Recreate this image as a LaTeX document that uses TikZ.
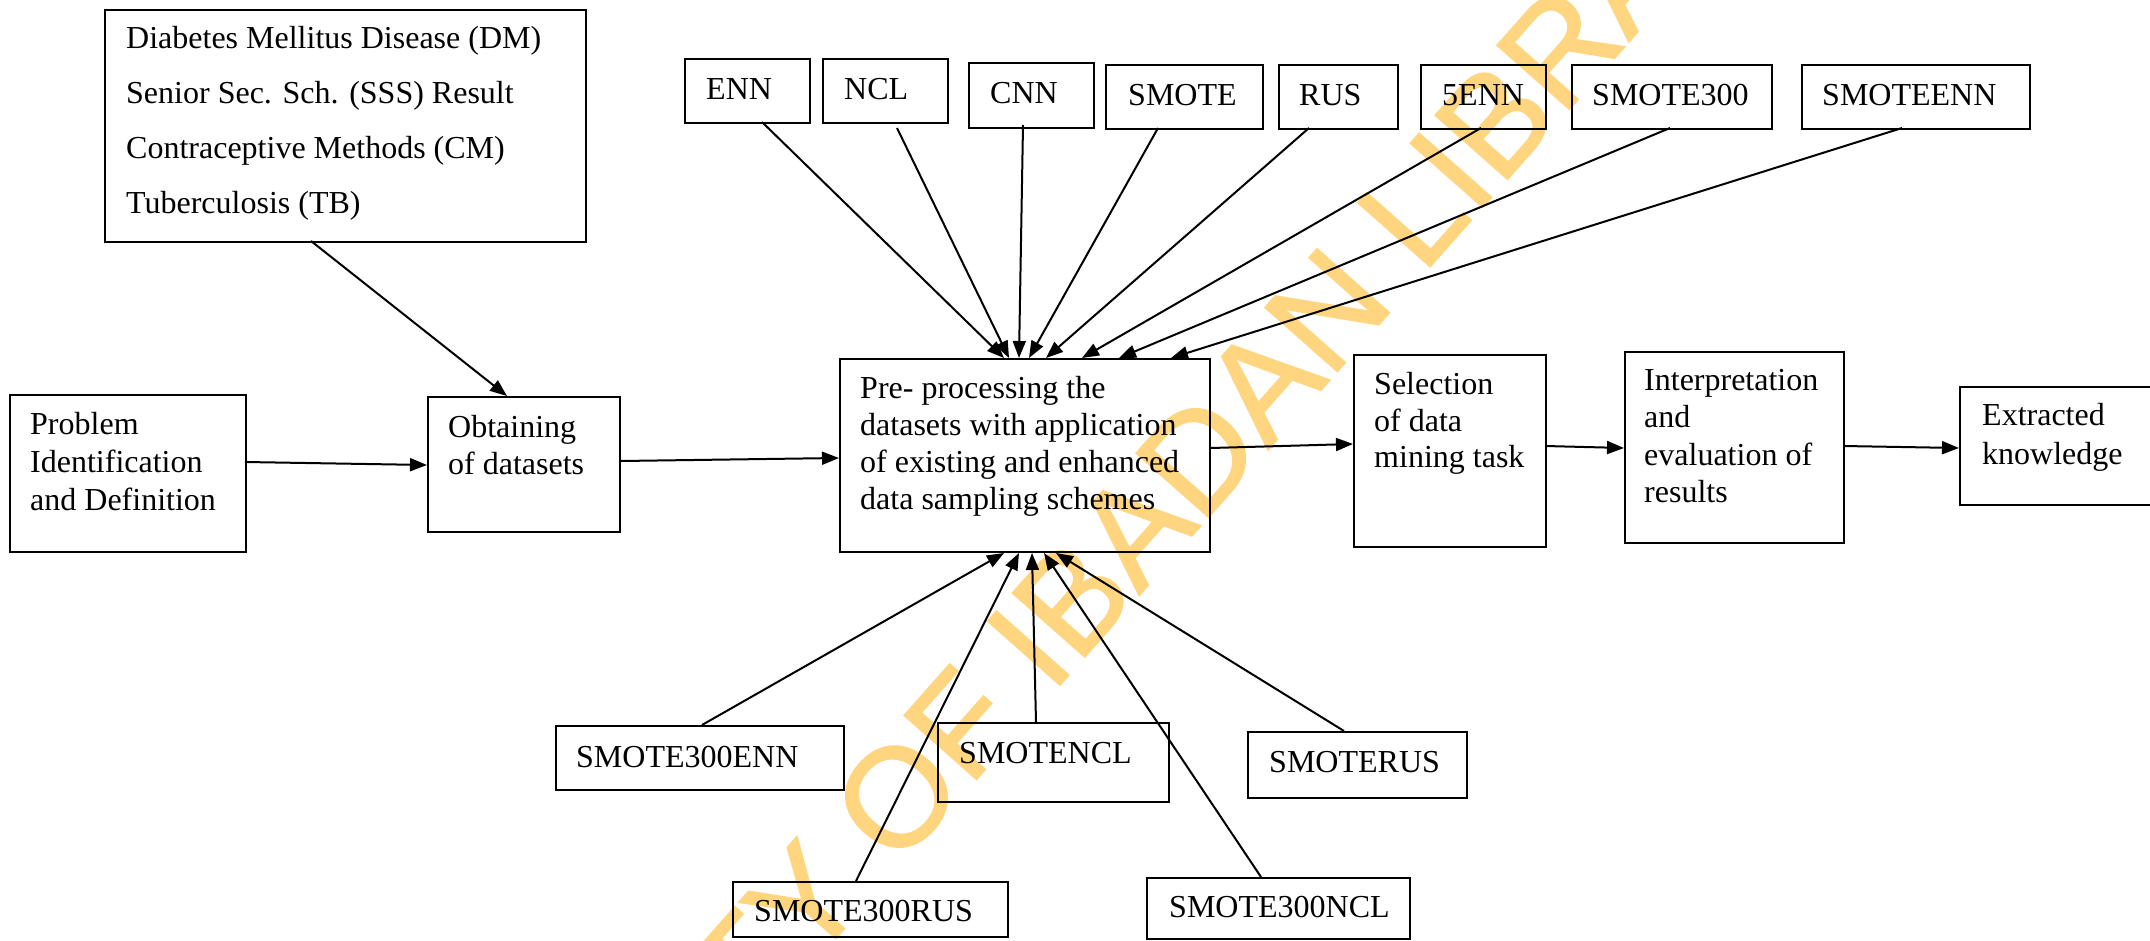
\documentclass[tikz,border=0pt]{standalone}
\usepackage{fontspec}
\setmainfont{Liberation Serif}
\newfontfamily\wmfont{Liberation Sans}[FakeBold=1.3]
\usetikzlibrary{arrows.meta,calc}
\definecolor{wmcol}{RGB}{255,213,128}
\newcommand\mkbox[5]{\node[box, minimum width={#4pt-#2pt}, minimum height={#5pt-#3pt}] (#1) at ({(#2+#4)/2},{(#3+#5)/2}) {};}
\tikzset{
  box/.style={draw, line width=2pt, rectangle, inner sep=0pt},
  lbl/.style={inner sep=0pt, anchor=base west, font=\fontsize{32}{38}\selectfont},
  arr/.style={line width=2pt, -{Triangle[length=17pt,width=13pt]}},
  wm/.style={inner sep=0pt, text=wmcol, font=\wmfont\fontsize{140}{160}\selectfont}
}
\begin{document}
\begin{tikzpicture}[x=1pt,y=-1pt]
\useasboundingbox (0,0) rectangle (2150,941);
% watermark
\node[wm, rotate=48.5] (wm) at (1030,646) {UNIVERSITY OF IBADAN LIBRARY};
% boxes
\mkbox{ds}{105}{10}{586}{242}
\mkbox{prob}{10}{395}{246}{552}
\mkbox{obt}{428}{397}{620}{532}
\mkbox{pre}{840}{359}{1210}{552}
\mkbox{sel}{1354}{355}{1546}{547}
\mkbox{intp}{1625}{352}{1844}{543}
\mkbox{ext}{1960}{387}{2165}{505}
\mkbox{enn}{685}{59}{810}{123}
\mkbox{ncl}{823}{59}{948}{123}
\mkbox{cnn}{969}{63}{1094}{128}
\mkbox{smote}{1106}{65}{1263}{129}
\mkbox{rus}{1279}{65}{1398}{129}
\mkbox{fenn}{1421}{65}{1546}{129}
\mkbox{sthree}{1572}{65}{1772}{129}
\mkbox{seenn}{1802}{65}{2030}{129}
\mkbox{stenn}{556}{726}{844}{790}
\mkbox{sncl}{938}{723}{1169}{802}
\mkbox{srus}{1248}{732}{1467}{798}
\mkbox{strus}{733}{882}{1008}{937}
\mkbox{stncl}{1147}{878}{1410}{939}
% texts
\node[lbl] (ds1) at (126,49) {Diabetes Mellitus Disease (DM)};
\node[lbl] (ds2) at (126,104) {Senior Sec. Sch. (SSS) Result};
\node[lbl] (ds3) at (126,159) {Contraceptive Methods (CM)};
\node[lbl] (ds4) at (126,214) {Tuberculosis (TB)};
\node[lbl] (prob1) at (30,434) {Problem};
\node[lbl] (prob2) at (30,472) {Identification};
\node[lbl] (prob3) at (30,510) {and Definition};
\node[lbl] (obt1) at (448,437) {Obtaining};
\node[lbl] (obt2) at (448,474) {of datasets};
\node[lbl] (pre1) at (860,398) {Pre- processing the};
\node[lbl] (pre2) at (860,435) {datasets with application};
\node[lbl] (pre3) at (860,472) {of existing and enhanced};
\node[lbl] (pre4) at (860,509) {data sampling schemes};
\node[lbl] (sel1) at (1374,394) {Selection};
\node[lbl] (sel2) at (1374,431) {of data};
\node[lbl] (sel3) at (1374,467) {mining task};
\node[lbl] (intp1) at (1644,390) {Interpretation};
\node[lbl] (intp2) at (1644,427) {and};
\node[lbl] (intp3) at (1644,465) {evaluation of};
\node[lbl] (intp4) at (1644,502) {results};
\node[lbl] (ext1) at (1982,425) {Extracted};
\node[lbl] (ext2) at (1982,464) {knowledge};
\node[lbl] (enn-t) at (706,100) {ENN};
\node[lbl] (ncl-t) at (844,100) {NCL};
\node[lbl] (cnn-t) at (990,104) {CNN};
\node[lbl] (smote-t) at (1128,106) {SMOTE};
\node[lbl] (rus-t) at (1299,106) {RUS};
\node[lbl] (fenn-t) at (1442,106) {5ENN};
\node[lbl] (sthree-t) at (1592,106) {SMOTE300};
\node[lbl] (seenn-t) at (1822,106) {SMOTEENN};
\node[lbl] (stenn-t) at (576,767) {SMOTE300ENN};
\node[lbl] (sncl-t) at (959,763) {SMOTENCL};
\node[lbl] (srus-t) at (1269,772) {SMOTERUS};
\node[lbl] (strus-t) at (754,921) {SMOTE300RUS};
\node[lbl] (stncl-t) at (1169,917) {SMOTE300NCL};
% main flow
\draw[arr] ($(ds.north west)+(207,232)$) -- ($(obt.north west)+(80,0)$);
\draw[arr] ($(prob.north west)+(236,68)$) -- ($(obt.north west)+(0,69)$);
\draw[arr] ($(obt.north west)+(194,65)$) -- ($(pre.north west)+(0,100)$);
\draw[arr] ($(pre.north west)+(372,90)$) -- ($(sel.north west)+(0,90)$);
\draw[arr] ($(sel.north west)+(192,92)$) -- ($(intp.north west)+(0,97)$);
\draw[arr] ($(intp.north west)+(219,95)$) -- ($(ext.north west)+(0,62)$);
% top methods
\draw[arr] ($(enn.north west)+(78,64)$) -- ($(pre.north west)+(165,0)$);
\draw[arr] ($(ncl.north west)+(75,70)$) -- ($(pre.north west)+(170,0)$);
\draw[arr] ($(cnn.north west)+(55,63)$) -- ($(pre.north west)+(180,0)$);
\draw[arr] ($(smote.north west)+(53,64)$) -- ($(pre.north west)+(190,0)$);
\draw[arr] ($(rus.north west)+(31,64)$) -- ($(pre.north west)+(207,0)$);
\draw[arr] ($(fenn.north west)+(61,64)$) -- ($(pre.north west)+(243,0)$);
\draw[arr] ($(sthree.north west)+(99,64)$) -- ($(pre.north west)+(280,0)$);
\draw[arr] ($(seenn.north west)+(101,64)$) -- ($(pre.north west)+(332,0)$);
% bottom methods
\draw[arr] ($(stenn.north west)+(147,0)$) -- ($(pre.south west)+(165,0)$);
\draw[arr] ($(strus.north west)+(124,0)$) -- ($(pre.south west)+(180,0)$);
\draw[arr] ($(sncl.north west)+(99,0)$) -- ($(pre.south west)+(193,0)$);
\draw[arr] ($(stncl.north west)+(115,0)$) -- ($(pre.south west)+(205,0)$);
\draw[arr] ($(srus.north west)+(97,0)$) -- ($(pre.south west)+(217,0)$);
\end{tikzpicture}
\end{document}
